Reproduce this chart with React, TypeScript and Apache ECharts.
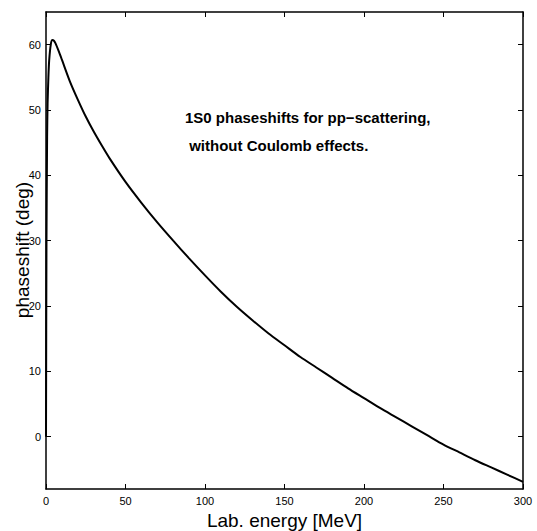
import React, { useEffect, useRef } from "react";
import * as echarts from "echarts";

const energy = [0, 0.3, 0.7, 1, 1.5, 2, 3, 4, 5, 6, 8, 10, 15, 20, 25, 30, 35, 40, 50, 60, 70, 80, 90, 100, 110, 120, 130, 140, 150, 160, 170, 180, 190, 200, 210, 220, 230, 240, 250, 260, 270, 280, 290, 300];
const phaseshift = [0, 30, 46, 51, 55, 57.6, 60.0, 60.7, 60.6, 60.2, 59.0, 57.7, 54.4, 51.6, 49.0, 46.7, 44.6, 42.6, 39.0, 35.8, 32.8, 30.0, 27.3, 24.7, 22.2, 19.9, 17.8, 15.8, 14.0, 12.2, 10.6, 9.0, 7.4, 5.9, 4.4, 3.0, 1.6, 0.2, -1.2, -2.4, -3.6, -4.7, -5.8, -6.9];
const yTicks = [0, 10, 20, 30, 40, 50, 60];
const xTicks = [0, 50, 100, 150, 200, 250, 300];
const xTitle = "Lab. energy [MeV]";
const yTitle = "phaseshift (deg)";
const noteLines = ["1S0 phaseshifts for pp−scattering,", " without Coulomb effects."];

const FONT = "'Liberation Sans', Arial, Helvetica, sans-serif";

export default function App() {
  const ref = useRef<HTMLDivElement>(null);
  useEffect(() => {
    document.body.style.margin = "0";
    const chart = echarts.init(ref.current!, null, { renderer: "svg" });
    const axisLine = { show: true, onZero: false, lineStyle: { color: "#000", width: 1.5 } };
    const tickStyle = { color: "#000", width: 1 };
    chart.setOption({
      animation: false,
      backgroundColor: "#fff",
      grid: { left: 46, right: 14, top: 12, bottom: 42, containLabel: false, outerBoundsMode: "none" },
      xAxis: [
        {
          type: "value",
          position: "bottom",
          min: 0,
          max: 300,
          interval: 50,
          name: xTitle,
          nameLocation: "middle",
          nameGap: 22,
          nameTextStyle: { fontFamily: FONT, fontSize: 19, color: "#000" },
          axisLine,
          axisTick: { show: true, inside: true, length: 5, lineStyle: tickStyle, customValues: xTicks },
          axisLabel: { show: true, margin: 6, fontFamily: FONT, fontSize: 11, color: "#000", customValues: xTicks },
          splitLine: { show: false },
        },
        {
          type: "value",
          position: "top",
          min: 0,
          max: 300,
          interval: 50,
          axisLine,
          axisTick: { show: true, inside: true, length: 5, lineStyle: tickStyle, customValues: xTicks },
          axisLabel: { show: false },
          splitLine: { show: false },
        },
      ],
      yAxis: [
        {
          type: "value",
          position: "left",
          min: -8,
          max: 65,
          axisLine,
          axisTick: { show: true, inside: true, length: 5, lineStyle: tickStyle, customValues: yTicks },
          axisLabel: { show: true, margin: 5, fontFamily: FONT, fontSize: 11, color: "#000", customValues: yTicks },
          splitLine: { show: false },
        },
        {
          type: "value",
          position: "right",
          min: -8,
          max: 65,
          axisLine,
          axisTick: { show: true, inside: true, length: 5, lineStyle: tickStyle, customValues: yTicks },
          axisLabel: { show: false },
          splitLine: { show: false },
        },
      ],
      graphic: [
        {
          type: "text",
          x: 22,
          y: 250,
          rotation: Math.PI / 2,
          style: {
            text: yTitle,
            font: `19px ${FONT}`,
            fill: "#000",
            align: "center",
            verticalAlign: "middle",
          },
        },
        {
          type: "text",
          left: 185,
          top: 103,
          style: {
            text: noteLines.join("\n"),
            font: `bold 15px ${FONT}`,
            fill: "#000",
            lineHeight: 28,
          },
        },
      ],
      series: [
        {
          type: "line",
          xAxisIndex: 0,
          yAxisIndex: 0,
          data: energy.map((e, i) => [e, phaseshift[i]]),
          showSymbol: false,
          smooth: 0.25,
          lineStyle: { color: "#000", width: 2 },
          clip: true,
        },
      ],
    });
    return () => chart.dispose();
  }, []);
  return <div ref={ref} style={{ width: 537, height: 531, position: "absolute", left: 0, top: 0 }} />;
}
